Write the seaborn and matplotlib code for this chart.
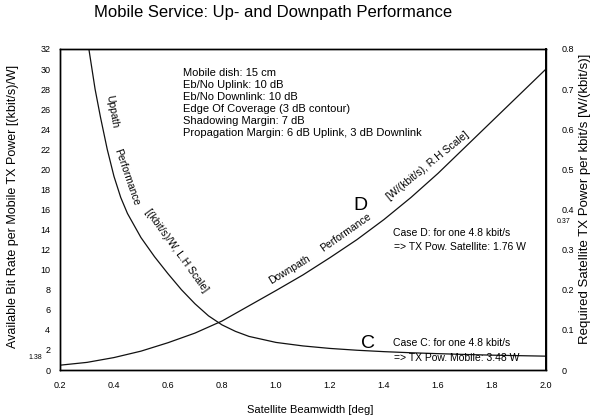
import numpy as np
import pandas as pd
import matplotlib
matplotlib.use("Agg")
import matplotlib.pyplot as plt
import seaborn as sns

sns.set_style("white")
plt.rcParams['font.family'] = ['Liberation Sans', 'DejaVu Sans']
plt.rcParams['text.color'] = 'black'
plt.rcParams['xtick.color'] = 'black'
plt.rcParams['ytick.color'] = 'black'
plt.rcParams['axes.labelcolor'] = 'black'

# uppath performance, left scale [(kbit/s)/W]
up_beam = [0.307, 0.33, 0.35, 0.375, 0.4, 0.425, 0.45, 0.5, 0.55, 0.6, 0.65, 0.7,
           0.75, 0.8, 0.85, 0.9, 1.0, 1.1, 1.2, 1.3, 1.4, 1.5, 1.6, 1.7, 1.8, 1.9, 2.0]
up_rate = [32.0, 28.0, 25.2, 22.0, 19.3, 17.2, 15.6, 13.2, 11.3, 9.6, 8.0, 6.6,
           5.4, 4.5, 3.85, 3.35, 2.75, 2.4, 2.15, 1.97, 1.83, 1.72, 1.63, 1.55, 1.48, 1.43, 1.38]

# downpath performance, right scale [W/(kbit/s)]
down_beam = [0.2, 0.3, 0.4, 0.5, 0.6, 0.7, 0.8, 0.9, 1.0, 1.1, 1.2, 1.3, 1.4,
             1.5, 1.6, 1.7, 1.8, 1.9, 2.0]
down_power = [0.012, 0.019, 0.031, 0.047, 0.068, 0.092, 0.122, 0.16, 0.198, 0.237, 0.28,
              0.325, 0.375, 0.43, 0.49, 0.555, 0.62, 0.685, 0.75]

x_ticks = [0.2, 0.4, 0.6, 0.8, 1.0, 1.2, 1.4, 1.6, 1.8, 2.0]
left_ticks = list(range(0, 33, 2))
right_ticks = [0.0, 0.1, 0.2, 0.3, 0.4, 0.5, 0.6, 0.7, 0.8]

info_lines = ["Mobile dish: 15 cm",
              "Eb/No Uplink: 10 dB",
              "Eb/No Downlink: 10 dB",
              "Edge Of Coverage (3 dB contour)",
              "Shadowing Margin: 7 dB",
              "Propagation Margin: 6 dB Uplink, 3 dB Downlink"]

up_df = pd.DataFrame({'beam': up_beam, 'rate': up_rate})
down_df = pd.DataFrame({'beam': down_beam, 'power': down_power})

fig = plt.figure(figsize=(5.98, 4.17), dpi=100)
ax = fig.add_axes([0.1003, 0.1127, 0.8127, 0.7698])
ax2 = ax.twinx()

sns.lineplot(data=up_df, x='beam', y='rate', ax=ax, color='#111111', lw=0.9, sort=False)
sns.lineplot(data=down_df, x='beam', y='power', ax=ax2, color='#111111', lw=0.9, sort=False)

ax.set_xlim(0.2, 2.0)
ax.set_ylim(0, 32)
ax2.set_ylim(0, 0.8)

ax.set_xticks(x_ticks)
ax.set_xticklabels([f"{v:.1f}" for v in x_ticks], fontsize=6.5)
ax.set_yticks(left_ticks)
ax.set_yticklabels([str(v) for v in left_ticks], fontsize=6.5)
ax2.set_yticks(right_ticks)
ax2.set_yticklabels(["0"] + [f"{v:.1f}" for v in right_ticks[1:]], fontsize=6.5)
ax.tick_params(axis='both', length=0, pad=8)
ax.tick_params(axis='y', pad=7)
ax2.tick_params(axis='y', length=0, pad=11)
ax.set_xlabel("")
ax.set_ylabel("")
ax2.set_ylabel("")

for a in (ax, ax2):
    for s in a.spines.values():
        s.set_color('black')
        s.set_linewidth(1.0)
ax2.spines['right'].set_linewidth(1.4)

# extra marks on the scales
ax.text(-0.036, 1.2, "1.38", transform=ax.get_yaxis_transform(), fontsize=5,
        ha='right', va='center')
ax2.text(1.022, 0.37, "0.37", transform=ax2.get_yaxis_transform(), fontsize=5,
         ha='left', va='center')

# info block
ax.text(0.253, 0.94, "\n".join(info_lines), transform=ax.transAxes, fontsize=8,
        ha='left', va='top', linespacing=1.24)

# curve labels
ax.text(0.107, 0.804, "Uppath", transform=ax.transAxes, fontsize=7.5, rotation=-80,
        ha='center', va='center')
ax.text(0.138, 0.600, "Performance", transform=ax.transAxes, fontsize=7.5, rotation=-71,
        ha='center', va='center')
ax.text(0.240, 0.372, "[(kbit/s)/W, L.H Scale]", transform=ax.transAxes, fontsize=7.5,
        rotation=-54, ha='center', va='center')

ax.text(0.472, 0.312, "Downpath", transform=ax.transAxes, fontsize=7.5, rotation=31,
        ha='center', va='center')
ax.text(0.588, 0.428, "Performance", transform=ax.transAxes, fontsize=7.5, rotation=35,
        ha='center', va='center')
ax.text(0.757, 0.636, "[W/(kbit/s), R.H Scale]", transform=ax.transAxes, fontsize=7.5,
        rotation=39, ha='center', va='center')

ax.text(0.619, 0.514, "D", transform=ax.transAxes, fontsize=14, ha='center', va='center')
ax.text(0.634, 0.084, "C", transform=ax.transAxes, fontsize=14, ha='center', va='center')

ax.text(0.685, 0.427, "Case D: for one 4.8 kbit/s", transform=ax.transAxes, fontsize=7.5,
        ha='left', va='center')
ax.text(0.687, 0.383, "=> TX Pow. Satellite: 1.76 W", transform=ax.transAxes, fontsize=7.5,
        ha='left', va='center')
ax.text(0.685, 0.084, "Case C: for one 4.8 kbit/s", transform=ax.transAxes, fontsize=7.5,
        ha='left', va='center')
ax.text(0.687, 0.037, "=> TX Pow. Mobile: 3.48 W", transform=ax.transAxes, fontsize=7.5,
        ha='left', va='center')

# titles and axis labels
fig.text(0.4565, 0.969, "Mobile Service: Up- and Downpath Performance", fontsize=12,
         ha='center', va='center')
fig.text(0.518, 0.017, "Satellite Beamwidth [deg]", fontsize=8, ha='center', va='center')
fig.text(0.022, 0.506, "Available Bit Rate per Mobile TX Power [(kbit/s)/W]", fontsize=9,
         rotation=90, ha='center', va='center')
fig.text(0.978, 0.523, "Required Satellite TX Power per kbit/s [W/(kbit/s)]", fontsize=9.5,
         rotation=90, ha='center', va='center')

fig.savefig("out.png", dpi=100)
